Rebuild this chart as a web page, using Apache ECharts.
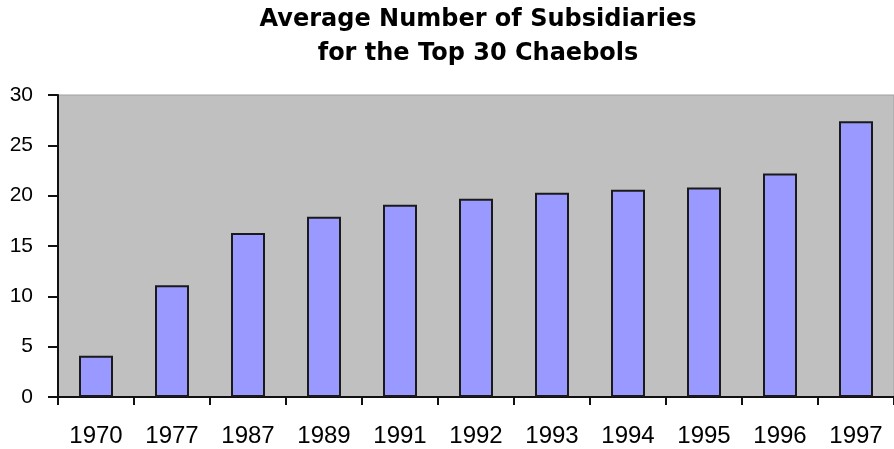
<!DOCTYPE html>
<html>
<head>
<meta charset="utf-8">
<script src="https://cdn.jsdelivr.net/npm/echarts@6/dist/echarts.min.js"></script>
<style>
    html, body { margin: 0; padding: 0; background: #fff; }
    #chart { width: 894px; height: 449px; }
</style>
</head>
<body>
<div id="chart"></div>
<script>
    // 数据
    var years = ['1970', '1977', '1987', '1989', '1991', '1992', '1993', '1994', '1995', '1996', '1997'];
    var subsidiaries = [4.1, 11.1, 16.3, 17.9, 19.1, 19.7, 20.3, 20.6, 20.8, 22.2, 27.4];
    var titleLines = ['Average Number of Subsidiaries', 'for the Top 30 Chaebols'];

    var chart = echarts.init(document.getElementById('chart'));

    var option = {
        animation: false,
        backgroundColor: '#FFFFFF',
        graphic: [{
            type: 'text',
            x: 478,
            y: 3,
            style: {
                text: titleLines.join('\n'),
                textAlign: 'center',
                fill: '#000',
                fontFamily: 'DejaVu Sans',
                fontWeight: 'bold',
                fontSize: 24,
                lineHeight: 34
            }
        }],
        grid: {
            left: 58,
            top: 95,
            bottom: 52,
            right: -10,
            show: true,
            backgroundColor: '#C0C0C0',
            borderColor: '#A0A0A0',
            borderWidth: 1
        },
        xAxis: {
            type: 'category',
            data: years,
            axisLine: {
                lineStyle: { color: '#111', width: 2 }
            },
            axisTick: {
                show: true,
                length: 8,
                lineStyle: { color: '#111', width: 2 }
            },
            axisLabel: {
                color: '#000',
                fontFamily: 'Liberation Sans',
                fontSize: 24,
                margin: 27,
                interval: 0
            },
            splitLine: { show: false }
        },
        yAxis: {
            type: 'value',
            min: 0,
            max: 30,
            interval: 5,
            axisLine: {
                show: true,
                lineStyle: { color: '#111', width: 2 }
            },
            axisTick: {
                show: true,
                length: 10,
                lineStyle: { color: '#111', width: 2 }
            },
            axisLabel: {
                color: '#000',
                fontFamily: 'Liberation Sans',
                fontSize: 21,
                margin: 25
            },
            splitLine: { show: false }
        },
        series: [{
            type: 'bar',
            data: subsidiaries,
            barWidth: 34,
            itemStyle: {
                color: '#9999FF',
                borderColor: '#1a1a1a',
                borderWidth: 2
            }
        }]
    };

    chart.setOption(option);
</script>
</body>
</html>
